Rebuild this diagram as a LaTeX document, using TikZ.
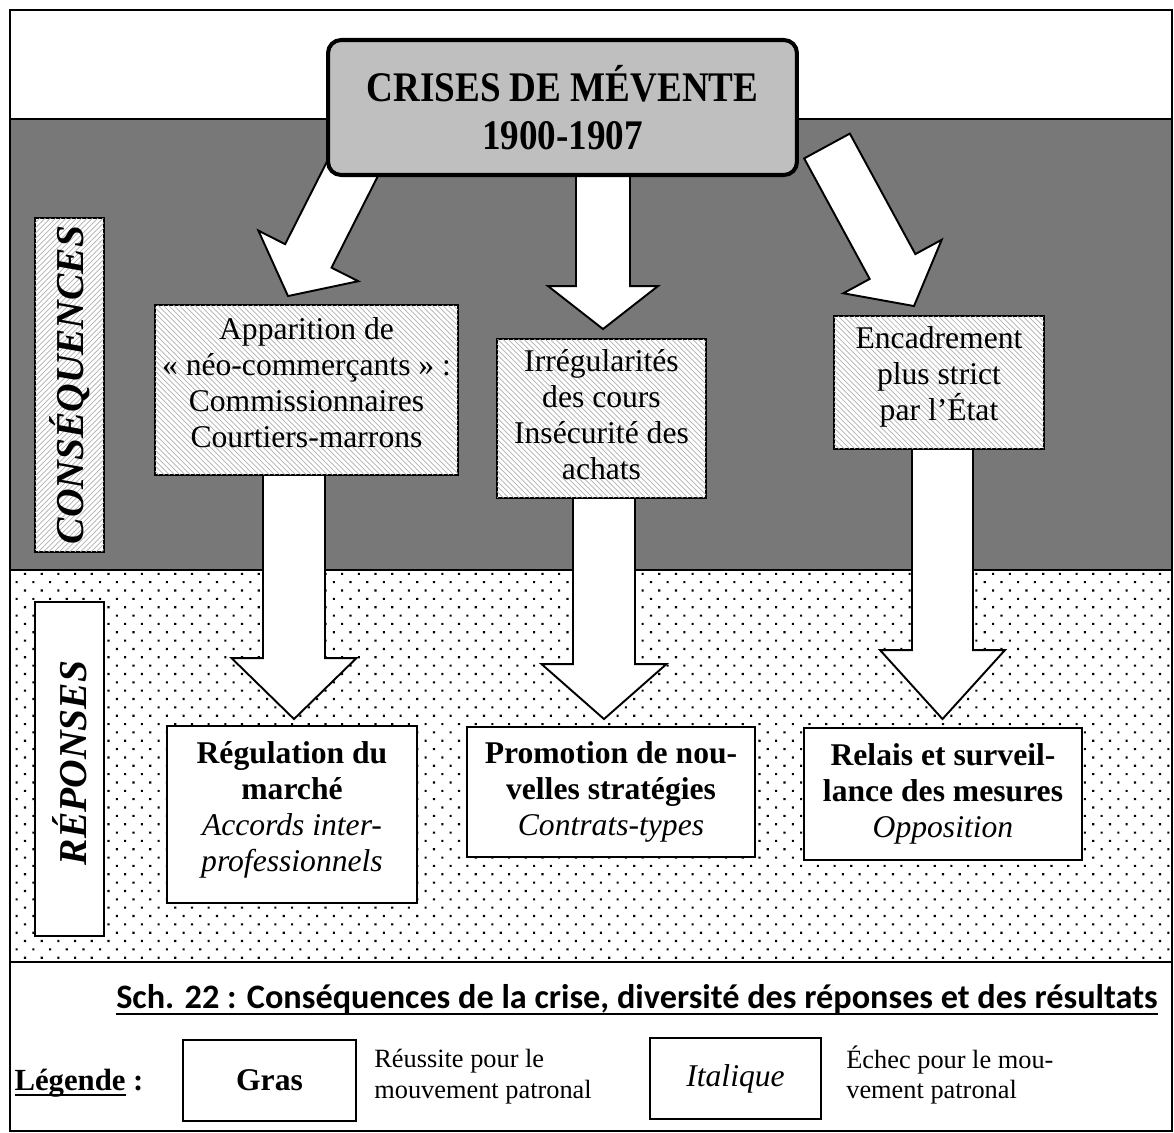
\documentclass[tikz,border=0pt]{standalone}
\usepackage{fontspec}
\setmainfont{Liberation Serif}
\newfontfamily\capfont{Carlito}
\newfontfamily\titlefont[FakeStretch=0.88]{Liberation Serif}
\usetikzlibrary{calc,patterns}
\pgfdeclarelayer{bandlayer}
\pgfdeclarelayer{arrowlayer}
\pgfsetlayers{bandlayer,arrowlayer,main}
\pgfdeclarepatternformonly{sparsedots}{\pgfqpoint{-1pt}{-1pt}}{\pgfqpoint{10.5pt}{10.5pt}}{\pgfqpoint{9.5pt}{9.5pt}}{%
  \pgfpathrectangle{\pgfqpoint{-0.6pt}{-0.6pt}}{\pgfqpoint{1.2pt}{1.2pt}}%
  \pgfpathrectangle{\pgfqpoint{4.15pt}{4.15pt}}{\pgfqpoint{1.2pt}{1.2pt}}%
  \pgfusepath{fill}}
\newsavebox\ulbox
\newcommand\myul[2]{\sbox\ulbox{#2}\rlap{\rule[#1]{\wd\ulbox}{1.2pt}}\usebox\ulbox}
\newcommand\lift[1]{\rule[-#1]{0pt}{1pt}}
\newcommand\blockarrow[6]{%
  \coordinate (#6hb) at ($(#2)!#5!(#1)$);
  \draw[blockarr] ($(#1)!#3!90:(#2)$) -- ($(#6hb)!#3!90:(#2)$) -- ($(#6hb)!#4!90:(#2)$) -- (#2)
    -- ($(#6hb)!#4!-90:(#2)$) -- ($(#6hb)!#3!-90:(#2)$) -- ($(#1)!#3!-90:(#2)$) -- cycle;}
\tikzset{
  blockarr/.style={draw=black, line width=1.1pt, fill=white, line join=miter},
  boxtext/.style={font=\fontsize{18}{20.5}\selectfont, align=center, inner sep=0pt},
  consbox/.style={boxtext, draw, line width=1.1pt, fill=white,
    postaction={pattern=north west lines, pattern color=black!30}},
  repbox/.style={boxtext, draw, line width=1.1pt, fill=white},
  sidebox/.style={draw, line width=1.1pt, minimum width=1.38cm, minimum height=6.68cm, inner sep=0pt},
  sidetext/.style={rotate=90, font=\fontsize{22.5}{27}\selectfont\bfseries\itshape, inner sep=0pt},
  legbox/.style={draw, line width=1.1pt, fill=white, minimum height=1.62cm, inner sep=0pt,
    font=\fontsize{18}{20.5}\selectfont},
  legtext/.style={anchor=west, align=left, inner sep=0pt, font=\fontsize{15}{17.5}\selectfont}
}
\begin{document}
\begin{tikzpicture}[x=0.02cm,y=-0.02cm]
\useasboundingbox (0,0) rectangle (1174,1133);
\begin{pgfonlayer}{bandlayer}
  \fill[white] (0,0) rectangle (1174,1133);
  \fill[black!53] (10,119) rectangle (1172,570);
  \fill[white] (10,570) rectangle (1172,962);
  \fill[pattern=sparsedots] (10,570) rectangle (1172,962);
  \draw[line width=1.1pt] (10,119) -- (1172,119);
  \draw[line width=1.1pt] (10,570) -- (1172,570);
  \draw[line width=1.1pt] (10,962) -- (1172,962);
  \draw[line width=0.9pt] (10,10) rectangle (1172,1131);
\end{pgfonlayer}

% side labels
\node[sidebox, fill=white, postaction={pattern=north east lines, pattern color=black!30}] (conslbl) at (69.5,385) {};
\node[sidetext] (conslbltext) at (conslbl.center) {CONSÉQUENCES};
\node[sidebox, fill=white] (replbl) at (69.5,769) {};
\node[sidetext] (replbltext) at ($(replbl.center)+(0,-6)$) {RÉPONSES};

% title
\node[draw, line width=2.3pt, rounded corners=0.26cm, fill=black!25, minimum width=9.38cm, minimum height=2.7cm,
  align=center, inner sep=0pt, font=\titlefont\fontsize{24}{27}\selectfont\bfseries] (title) at (562.5,107.5)
  {CRISES DE MÉVENTE\\1900-1907};

% consequences
\node[consbox, minimum width=6.06cm, minimum height=3.4cm] (consA) at (306.5,390)
  {Apparition de\\« néo-commerçants » :\\Commissionnaires\\Courtiers-marrons\lift{9pt}};
\node[consbox, minimum width=4.18cm, minimum height=3.18cm] (consB) at (601.5,418.5)
  {Irrégularités\\des cours\\Insécurité des\\achats\lift{5pt}};
\node[consbox, minimum width=4.2cm, minimum height=2.66cm] (consC) at (939,382.5)
  {Encadrement\\plus strict\\par l’État\lift{10pt}};

% responses
\node[repbox, minimum width=5.0cm, minimum height=3.54cm] (repA) at (292,814.5)
  {\textbf{Régulation du}\\\textbf{marché}\\\textit{Accords inter-}\\\textit{professionnels}\lift{9pt}};
\node[repbox, minimum width=5.76cm, minimum height=2.6cm] (repB) at (611,792)
  {\textbf{Promotion de nou-}\\\textbf{velles stratégies}\\\textit{Contrats-types}};
\node[repbox, minimum width=5.56cm, minimum height=2.64cm] (repC) at (943,794)
  {\textbf{Relais et surveil-}\\\textbf{lance des mesures}\\\textit{Opposition}};

% arrows
\coordinate (lS) at ($(title.center)+(-198.5,38.5)$);
\coordinate (lT) at ($(consA.north)+(-18.5,-8)$);
\coordinate (mS) at ($(title.center)+(40.5,62.5)$);
\coordinate (mT) at ($(consB.north)+(1.5,-9)$);
\coordinate (rS) at ($(title.center)+(264.5,38.5)$);
\coordinate (rT) at ($(consC.north)+(-25,-9)$);
\coordinate (aS) at ($(consA.south)+(-12.5,-5)$);
\coordinate (aT) at ($(repA.north)+(2,-6)$);
\coordinate (bS) at ($(consB.south)+(2.5,-5)$);
\coordinate (bT) at ($(repB.north)+(-7,-7)$);
\coordinate (cS) at ($(consC.south)+(3.5,-5)$);
\coordinate (cT) at ($(repC.north)+(-0.5,-8)$);
\begin{pgfonlayer}{arrowlayer}
  \blockarrow{lS}{lT}{0.52cm}{1.12cm}{0.9cm}{la}
  \blockarrow{mS}{mT}{0.54cm}{1.1cm}{0.86cm}{ma}
  \blockarrow{rS}{rT}{0.52cm}{1.12cm}{0.9cm}{ra}
  \blockarrow{aS}{aT}{0.62cm}{1.25cm}{1.22cm}{aa}
  \blockarrow{bS}{bT}{0.62cm}{1.25cm}{1.1cm}{ba}
  \blockarrow{cS}{cT}{0.61cm}{1.25cm}{1.38cm}{ca}
\end{pgfonlayer}

% caption and legend
\node[inner sep=0pt, font=\capfont\bfseries\fontsize{19.5}{22}\selectfont] (caption) at (637,1000)
  {\myul{-3.5pt}{Sch. 22 : Conséquences de la crise, diversité des réponses et des résultats}};
\node[inner sep=0pt, font=\fontsize{17.5}{20}\selectfont\bfseries] (legtitle) at (79,1083)
  {\myul{-3.5pt}{Légende} :};
\node[legbox, minimum width=3.46cm] (leg1) at (269.5,1080.5) {\textbf{Gras}};
\node[legtext] (leg1text) at (374,1077) {Réussite pour le\\mouvement patronal};
\node[legbox, minimum width=3.42cm] (leg2) at (735.5,1078.5) {\textit{Italique}};
\node[legtext] (leg2text) at (846,1075) {Échec pour le mou-\\vement patronal};
\end{tikzpicture}
\end{document}
